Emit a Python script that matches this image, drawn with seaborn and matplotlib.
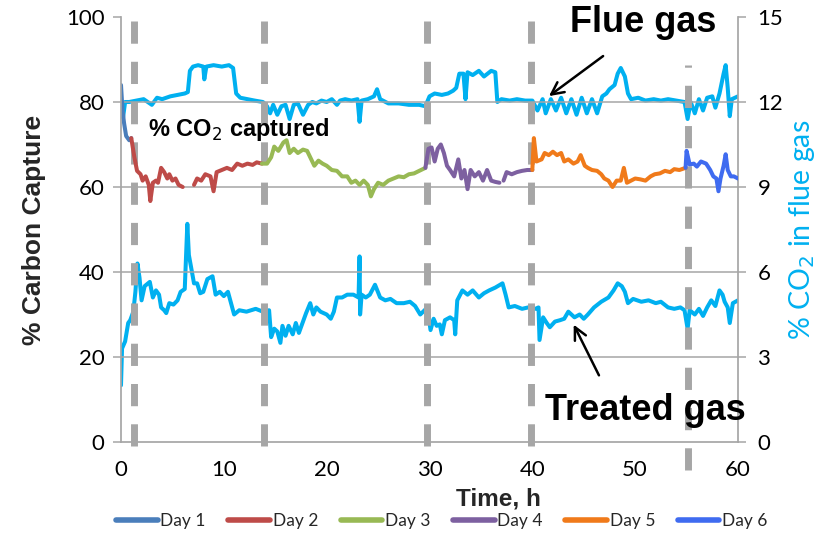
import matplotlib
matplotlib.use("Agg")
import matplotlib.pyplot as plt
import seaborn as sns
import pandas as pd
import numpy as np

# ---------------- data ----------------
flue_t = [0, 0.2, 0.4, 0.8, 1.5, 2.2, 3.0, 3.5, 4.0, 4.8, 5.5, 6.2, 6.5, 6.7, 7.0, 7.5, 8.0, 8.1, 8.3,
          9.0, 9.8, 10.5, 10.9, 11.2, 11.6, 12.3, 13.0, 13.8, 14.2, 14.5, 14.8, 15.2, 15.6, 16.0, 16.4,
          16.8, 17.2, 17.7, 18.2, 18.6, 19.0, 19.5, 20.0, 20.5, 21.0, 21.3, 21.8, 22.4, 23.0, 23.2, 23.4,
          24.0, 24.6, 24.9, 25.2, 26.0, 27.0, 28.0, 29.0, 29.6, 30.0, 30.5, 31.2, 31.8, 32.3, 32.6, 32.9,
          33.3, 33.5, 33.7, 34.2, 34.8, 35.3, 36.0, 36.4, 36.6, 37.0, 37.8, 38.5, 39.3, 40.0, 40.5, 41.0,
          41.3, 41.8, 42.3, 42.8, 43.3, 43.8, 44.3, 44.8, 45.3, 45.8, 46.3, 46.8, 47.2, 47.5, 48.0, 48.3,
          48.6, 49.0, 49.3, 49.6, 50.3, 51.0, 51.8, 52.5, 53.2, 54.0, 54.8, 55.1, 55.4, 55.8, 56.2, 56.6,
          57.0, 57.5, 57.8, 58.2, 58.6, 58.8, 59.0, 59.2, 59.4, 59.7, 60.0]
flue_v = [11.9, 11.45, 12.0, 12.0, 12.05, 12.1, 11.9, 12.15, 12.1, 12.2, 12.25, 12.3, 12.35, 13.1, 13.25,
          13.3, 13.25, 12.8, 13.25, 13.3, 13.25, 13.3, 13.2, 12.3, 12.15, 12.1, 12.05, 12.0, 11.85, 11.6,
          11.9, 11.55, 11.85, 11.9, 11.4, 11.9, 11.95, 11.55, 11.9, 12.0, 11.95, 12.05, 12.0, 12.1, 11.9,
          12.05, 12.1, 12.05, 12.1, 11.3, 12.05, 12.1, 12.2, 12.45, 12.1, 11.95, 11.95, 11.9, 11.9, 11.85,
          12.2, 12.3, 12.25, 12.3, 12.4, 12.5, 13.0, 13.0, 12.1, 13.05, 12.95, 13.1, 12.9, 13.1, 13.05,
          12.0, 12.1, 12.05, 12.1, 12.05, 12.05, 11.7, 12.1, 11.6, 12.1, 11.7, 12.15, 11.6, 12.1, 11.55,
          12.15, 11.6, 12.1, 11.6, 12.2, 12.3, 12.45, 12.6, 13.0, 13.2, 12.9, 12.3, 12.1, 12.15, 12.05,
          12.1, 12.05, 12.1, 12.05, 12.0, 11.4, 12.0, 11.6, 12.1, 11.7, 12.15, 12.2, 11.8, 12.3, 13.0,
          13.3, 12.5, 11.5, 12.1, 12.15, 12.2]

treated_t = [0, 0.1, 0.4, 0.7, 0.9, 1.2, 1.4, 1.6, 1.8, 2.0, 2.3, 2.8, 3.1, 3.4, 3.7, 3.9, 4.2, 4.4, 4.7,
             5.1, 5.5, 5.8, 6.2, 6.45, 6.6, 6.8, 7.1, 7.4, 7.7, 8.0, 8.4, 8.9, 9.2, 9.6, 10.0, 10.4, 11.0,
             11.5, 12.2, 13.1, 13.8, 14.4, 14.6, 14.9, 15.2, 15.5, 15.7, 16.0, 16.3, 16.7, 17.0, 17.3,
             17.6, 18.0, 18.4, 18.7, 19.0, 19.4, 20.0, 20.4, 20.7, 21.0, 21.5, 22.0, 22.6, 23.1, 23.2,
             23.25, 23.4, 23.8, 24.2, 24.7, 25.2, 25.7, 26.2, 26.8, 27.5, 28.1, 28.6, 29.1, 29.8, 30.1,
             30.4, 30.7, 31.0, 31.2, 31.5, 32.0, 32.4, 32.5, 32.7, 33.2, 33.7, 34.2, 34.8, 35.3, 35.8,
             36.4, 37.1, 37.4, 37.7, 38.3, 39.0, 39.6, 40.3, 40.6, 40.7, 41.05, 41.4, 41.7, 42.2, 42.7,
             43.1, 43.5, 44.1, 44.6, 45.0, 45.4, 46.0, 46.7, 47.4, 47.9, 48.3, 48.7, 49.0, 49.3, 49.8,
             50.6, 51.3, 52.0, 52.5, 53.2, 53.8, 54.4, 54.8, 55.1, 55.3, 55.8, 56.2, 56.6, 57.0, 57.4,
             57.8, 58.2, 58.5, 58.7, 59.0, 59.2, 59.5, 60.0]
treated_v = [2.0, 3.3, 3.55, 4.2, 4.3, 4.6, 5.3, 6.3, 5.8, 5.0, 5.5, 5.65, 5.1, 5.35, 5.2, 4.75, 4.65, 4.55,
             4.9, 4.85, 5.0, 5.3, 5.4, 7.7, 6.6, 6.2, 5.6, 5.6, 5.25, 5.3, 5.75, 5.85, 5.2, 5.3, 5.15, 5.3,
             4.5, 4.65, 4.6, 4.7, 4.6, 4.65, 3.7, 4.0, 3.9, 3.5, 4.1, 3.75, 4.1, 3.8, 4.2, 3.85, 4.15, 4.55,
             4.9, 4.5, 4.75, 4.6, 4.5, 4.35, 4.6, 5.1, 5.1, 5.2, 5.2, 5.1, 6.55, 4.5, 5.2, 5.1, 5.2, 5.55,
             5.1, 5.0, 5.05, 4.9, 4.9, 4.95, 4.8, 4.5, 4.75, 3.95, 4.35, 4.1, 4.15, 3.8, 4.3, 4.4, 4.3, 3.8,
             5.0, 5.35, 5.2, 5.35, 5.1, 5.25, 5.35, 5.45, 5.6, 5.2, 4.75, 4.8, 4.7, 4.75, 4.7, 4.75, 3.6,
             4.4, 4.2, 4.05, 4.25, 4.3, 4.35, 4.6, 4.4, 4.5, 4.35, 4.5, 4.75, 4.95, 5.1, 5.35, 5.6, 5.5,
             5.3, 4.9, 5.05, 4.95, 5.0, 4.9, 4.95, 4.75, 4.7, 4.75, 4.65, 4.0, 4.65, 4.5, 4.7, 4.45, 4.75,
             5.0, 4.8, 5.35, 5.2, 4.95, 4.75, 4.2, 4.9, 5.0]

# carbon capture per day (segment letters mark gaps in the record)
day1_t = [0, 0.15, 0.3, 0.5, 0.8, 1.0]
day1_v = [84, 78, 75, 72, 71, 71.5]
day2a_t = [1.0, 1.3, 1.56, 1.9, 2.1, 2.4, 2.7, 2.85, 3.1, 3.4, 3.6, 3.9, 4.2, 4.5, 4.7, 5.0, 5.3, 5.6, 6.0]
day2a_v = [71.5, 67, 63.8, 63, 61.5, 62.5, 60.5, 56.7, 61, 61.5, 61, 64.5, 63.5, 62, 63, 61.5, 62, 60.5, 60]
day2b_t = [7.1, 7.4, 7.8, 8.2, 8.7, 9.0, 9.3, 9.8, 10.3, 10.8, 11.3, 11.8, 12.3, 12.8, 13.2, 13.7]
day2b_v = [60.5, 62, 61.5, 63, 62.5, 59, 63.5, 64, 64.5, 64, 65.5, 65, 65.5, 65.2, 65.8, 65.5]
day3_t = [13.7, 14.2, 14.6, 14.9, 15.3, 15.8, 16.1, 16.4, 16.8, 17.2, 17.7, 18.1, 18.5, 18.8, 19.2, 19.6,
          20.0, 20.5, 21.0, 21.5, 22.0, 22.4, 22.8, 23.2, 23.6, 24.0, 24.3, 24.6, 25.0, 25.5, 26.0, 26.5,
          27.0, 27.5, 28.0, 28.5, 29.0, 29.6]
day3_v = [65.5, 65.5, 67, 69.5, 68.5, 70.5, 71, 68, 69, 68, 68.8, 68.5, 66.5, 65, 66.2, 65.5, 65, 64, 63.8,
          62.5, 62.5, 61, 61.5, 60.5, 61.5, 60.5, 57.8, 59.5, 61, 60.5, 61.5, 62, 62.5, 62.3, 63, 63.2,
          63.8, 64.5]
day4a_t = [29.6, 29.9, 30.2, 30.5, 30.8, 31.1, 31.4, 31.7, 32.0, 32.4, 32.8, 33.1, 33.4, 33.7, 34.0, 34.4,
           34.8, 35.2, 35.6, 36.0, 36.4, 36.8]
day4a_v = [64.5, 69, 69.3, 66, 69, 70, 68, 65, 64, 62.5, 66.5, 62, 64, 59.5, 64, 62.5, 63.5, 61.5, 64, 61.5,
           61.2, 61]
day4b_t = [37.2, 37.5, 38.0, 38.5, 39.0, 39.5, 40.0]
day4b_v = [61.5, 63.5, 63, 63.5, 63.8, 64, 64]
day5_t = [40.0, 40.15, 40.4, 40.9, 41.2, 41.6, 42.0, 42.4, 42.8, 43.1, 43.5, 44.0, 44.4, 44.7, 45.1, 45.4,
          45.8, 46.3, 46.7, 47.0, 47.4, 47.8, 48.2, 48.6, 48.9, 49.2, 49.6, 50.0, 50.5, 51.0, 51.5, 51.9,
          52.4, 52.9, 53.4, 53.8, 54.3, 54.9]
day5_v = [64, 71.5, 66, 66.5, 68, 67.5, 68.3, 67.5, 68, 66, 66.5, 65.5, 66, 67.5, 65, 64.5, 64, 63.8, 63, 62,
          61.5, 60, 61.5, 61.5, 64.5, 61, 61.5, 62, 61.8, 61.5, 62.5, 63, 63.2, 63.8, 63.5, 64.2, 64, 64.5]
day6_t = [54.9, 55.0, 55.3, 55.7, 56.0, 56.4, 56.9, 57.3, 57.6, 57.9, 58.1, 58.3, 58.6, 58.8, 59.0, 59.3,
          59.6, 60.0]
day6_v = [64.5, 68.5, 65.3, 65.5, 64.8, 66, 65.5, 64, 62.5, 62, 59, 62, 65, 67.7, 64, 62.5, 62.5, 62]

day_labels = ["Day 1", "Day 2", "Day 3", "Day 4", "Day 5", "Day 6"]
day_colors = ["#4A7EBB", "#BE4B48", "#98B954", "#7D60A0", "#F07A1A", "#3F6BF0"]
day_breaks = [1.3, 13.9, 29.8, 39.9, 55.1]

x_ticks = [0, 10, 20, 30, 40, 50, 60]
left_ticks = [0, 20, 40, 60, 80, 100]
right_ticks = [0, 3, 6, 9, 12, 15]

# ---------------- build frames ----------------
segments = [("Day 1", "a", day1_t, day1_v), ("Day 2", "a", day2a_t, day2a_v), ("Day 2", "b", day2b_t, day2b_v),
            ("Day 3", "a", day3_t, day3_v), ("Day 4", "a", day4a_t, day4a_v), ("Day 4", "b", day4b_t, day4b_v),
            ("Day 5", "a", day5_t, day5_v), ("Day 6", "a", day6_t, day6_v)]
rows = []
for day, seg, ts, vs in segments:
    for t, v in zip(ts, vs):
        rows.append({"day": day, "seg": day + seg, "t": t, "v": v})
cap = pd.DataFrame(rows)
gas = pd.concat([pd.DataFrame({"t": flue_t, "v": flue_v, "gas": "flue"}),
                 pd.DataFrame({"t": treated_t, "v": treated_v, "gas": "treated"})])

# ---------------- plot ----------------
sns.set_theme(style="white")
plt.rcParams["font.family"] = ["Lato", "DejaVu Sans"]
plt.rcParams["lines.scale_dashes"] = False

fig = plt.figure(figsize=(8.21, 5.44), dpi=100)
ax = fig.add_axes([121 / 821, 1 - 442 / 544, 617 / 821, 425 / 544])
ax2 = ax.twinx()

grid_c = "#A6A6A6"
for y in left_ticks[1:-1]:
    ax.axhline(y, color=grid_c, lw=1.1, zorder=0)

sns.lineplot(data=cap, x="t", y="v", hue="day", units="seg", estimator=None, sort=False,
             palette=dict(zip(day_labels, day_colors)), hue_order=day_labels,
             lw=2.9, ax=ax, legend=False)
sns.lineplot(data=gas, x="t", y="v", units="gas", estimator=None, sort=False,
             color="#00B0F0", lw=2.9, ax=ax2, legend=False)

# day boundaries
for i, xb in enumerate(day_breaks):
    lo, hi = (-0.15, 15.0) if i < 4 else (-1.0, 13.3)
    ax2.plot([xb, xb], [lo, hi], color=grid_c, lw=5, dashes=(16, 13), solid_capstyle="butt",
             dash_capstyle="butt", zorder=5, clip_on=False)

ax.set_xlim(0, 60)
ax.set_ylim(0, 100)
ax2.set_ylim(0, 15)
ax.set_xticks(x_ticks)
ax.set_yticks(left_ticks)
ax2.set_yticks(right_ticks)
for a in (ax, ax2):
    for s in a.spines.values():
        s.set_visible(False)
ax.spines["left"].set_visible(True)
ax.spines["left"].set_color(grid_c)
ax.spines["bottom"].set_visible(True)
ax.spines["bottom"].set_color(grid_c)
ax2.spines["right"].set_visible(True)
ax2.spines["right"].set_color(grid_c)
ax.tick_params(axis="both", which="both", direction="out", length=6, width=1.1, color=grid_c,
               labelsize=16, labelcolor="black", pad=6)
ax.tick_params(axis="x", pad=7)
ax2.tick_params(axis="y", direction="out", length=6, width=1.1, color=grid_c, labelsize=16,
                labelcolor="black", pad=8)

lab_font = ["Liberation Sans", "DejaVu Sans"]
ax.set_xlabel("Time, h", fontsize=17.5, fontweight="bold", family=lab_font)
ax.xaxis.set_label_coords(0.611, -0.107)
ax.set_ylabel("% Carbon Capture", fontsize=19, fontweight="bold", family=lab_font, labelpad=14)
ax2.set_ylabel("% CO$_2$ in flue gas", fontsize=20.5, color="#00B0F0", family=["Lato", "DejaVu Sans"],
               labelpad=3)
ax.set_zorder(ax2.get_zorder() + 1)
ax.patch.set_visible(False)

# annotations
bold = dict(fontweight="bold", family=lab_font, color="black")
ax.text(50.8, 98.6, "Flue gas", fontsize=26, ha="center", va="center", zorder=10, **bold)
ax.text(51.0, 7.3, "Treated gas", fontsize=26, ha="center", va="center", zorder=10, **bold)
ax.text(2.6, 73.5, "% CO$_2$ captured", fontsize=17, ha="left", va="center", zorder=10, **bold)
ax.annotate("", xy=(41.4, 81.0), xytext=(47.1, 91.2),
            arrowprops=dict(arrowstyle="->", color="black", lw=1.8, mutation_scale=22), zorder=10)
ax.annotate("", xy=(43.9, 28.2), xytext=(46.6, 15.1),
            arrowprops=dict(arrowstyle="->", color="black", lw=1.8, mutation_scale=22), zorder=10)

# legend
from matplotlib.lines import Line2D
handles = [Line2D([0], [0], color=c, lw=4) for c in day_colors]
fig.legend(handles, day_labels, loc="center", bbox_to_anchor=(0.538, 0.043), ncol=6, frameon=False,
           fontsize=12.5, handlelength=2.4, handletextpad=0.15, columnspacing=1.3)

fig.savefig("out.png", dpi=100)
